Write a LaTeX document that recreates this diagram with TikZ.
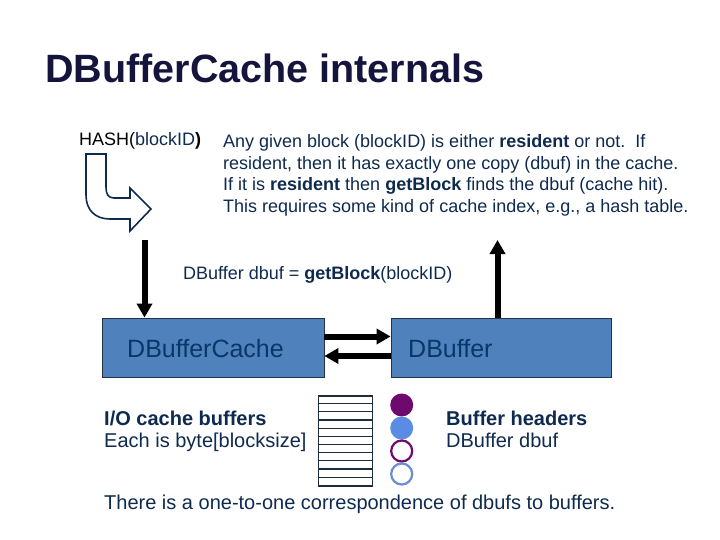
\documentclass[tikz,border=0pt]{standalone}
\usepackage{fontspec}
\setmainfont{Liberation Sans}
\usetikzlibrary{arrows.meta}
\definecolor{titlecol}{RGB}{20,20,60}
\definecolor{txt}{RGB}{14,42,78}
\definecolor{boxtxt}{RGB}{10,55,105}
\definecolor{boxfill}{RGB}{79,129,189}
\definecolor{boxline}{RGB}{40,50,70}
\definecolor{purp}{RGB}{110,10,110}
\definecolor{bluefill}{RGB}{90,140,230}
\definecolor{blueline}{RGB}{105,140,210}
\definecolor{gridline}{RGB}{30,45,60}
\tikzset{
  txt18/.style={anchor=base west,inner sep=0pt,text=txt,font=\fontsize{18}{21.6}\selectfont},
  txt20/.style={anchor=base west,inner sep=0pt,text=txt,font=\fontsize{20}{24}\selectfont},
  bigbox/.style={draw=boxline,line width=0.8pt,fill=boxfill,minimum height=59pt,inner sep=0pt},
  boxlabel/.style={anchor=base west,inner sep=0pt,text=boxtxt,font=\fontsize{25}{30}\selectfont},
  bigarrow/.style={draw=black,line width=6pt,-{Triangle[width=15pt,length=14pt]}},
  bent/.style={draw=txt,line width=1.6pt,fill=white,line join=miter},
  dot/.style={circle,minimum size=23pt,inner sep=0pt}
}
\begin{document}
\begin{tikzpicture}[x=1pt,y=-1pt]
\useasboundingbox (0,0) rectangle (720,540);
% title
\node[anchor=base west,inner sep=0pt,text=titlecol,font=\fontsize{39.5}{44}\selectfont\bfseries] (title) at (45,83) {DBufferCache internals};
% hash label
\node[anchor=base west,inner sep=0pt,font=\fontsize{18}{21.6}\selectfont] (hash) at (79,146) {\textcolor{black}{HASH(}\textcolor{txt}{blockID}\textcolor{black}{\bfseries)}};
% bent arrow
\path[bent] (86,154) -- (106,154) -- (106,187) .. controls (106,194) and (108,198) .. (114,198) -- (130,198) -- (130,188) -- (151,209) -- (130,231) -- (130,219) -- (110,219) .. controls (95,219) and (86,210) .. (86,195) -- cycle;
% paragraph
\node[txt18] (p1) at (223,147.5) {Any given block (blockID) is either \textbf{resident} or not.\ \ If};
\node[txt18] (p2) at (223,169.2) {resident, then it has exactly one copy (dbuf) in the cache.};
\node[txt18] (p3) at (223,190.8) {If it is \textbf{resident} then \textbf{getBlock} finds the dbuf (cache hit).};
\node[txt18] (p4) at (223,212.5) {This requires some kind of cache index, e.g., a hash table.};
% call
\node[txt18] (call) at (183,279) {DBuffer dbuf = \textbf{getBlock}(blockID)};
% boxes
\node[bigbox,minimum width=222pt] (cache) at (213,347.5) {};
\node[bigbox,minimum width=220pt] (buf) at (501,347.5) {};
\node[boxlabel] (cachelbl) at (127,357) {DBufferCache};
\node[boxlabel] (buflbl) at (408,357) {DBuffer};
% vertical arrows
\coordinate (downtop) at (144.5,240);
\coordinate (uptop) at (497.5,240);
\draw[bigarrow] (downtop) -- (downtop |- cache.north);
\draw[bigarrow] (uptop |- buf.north) -- (uptop);
% horizontal arrows
\draw[bigarrow] ([yshift=11pt]cache.east) -- ([yshift=11pt]buf.west);
\draw[bigarrow] ([yshift=-8.5pt]buf.west) -- ([yshift=-8.5pt]cache.east);
% lower texts
\node[txt20] (io1) at (104,425) {\textbf{I/O cache buffers}};
\node[txt20] (io2) at (104,447) {Each is byte[blocksize]};
\node[txt20] (bh1) at (446,425) {\textbf{Buffer headers}};
\node[txt20] (bh2) at (446,447) {DBuffer dbuf};
\node[txt20] (bottom) at (104,509) {There is a one-to-one correspondence of dbufs to buffers.};
% buffer grid
\node[draw=gridline,line width=1.2pt,minimum width=54pt,minimum height=90pt,inner sep=0pt] (grid) at (345.3,441) {};
\foreach \i in {1,...,10}{
  \draw[gridline,line width=1.2pt] ([yshift={-\i*90/11*1pt}]grid.north west) -- ([yshift={-\i*90/11*1pt}]grid.north east);
}
% circles
\node[dot,fill=purp] (c1) at (401.7,405) {};
\node[dot,fill=bluefill] (c2) at (401.7,428) {};
\node[dot,draw=purp,line width=2.2pt,minimum size=21pt] (c3) at (401.7,451) {};
\node[dot,draw=blueline,line width=2.2pt,minimum size=21pt] (c4) at (401.7,474) {};
\end{tikzpicture}
\end{document}
